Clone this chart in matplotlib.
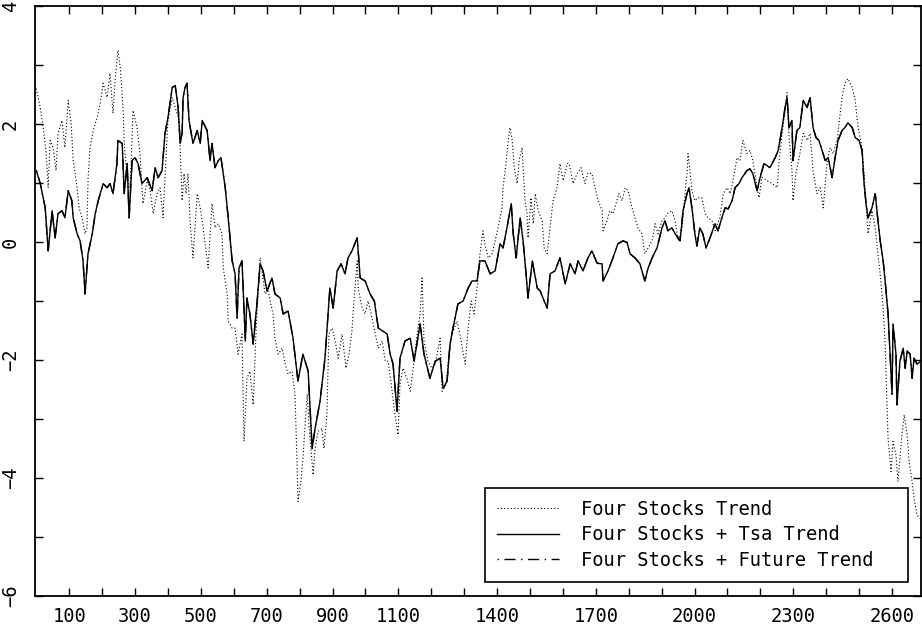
import matplotlib
matplotlib.use("Agg")
import matplotlib.pyplot as plt

# four stocks + tsa trend (solid)
tsa_x = [0, 12, 27, 36, 48, 57, 66, 78, 87, 97, 108, 112, 124, 133, 142, 148, 157, 170, 179, 188,
         203, 215, 224, 233, 245, 248, 261, 267, 276, 282, 291, 300, 309, 321, 337, 352, 361, 370, 382, 391,
         400, 413, 422, 431, 437, 443, 446, 452, 458, 464, 476, 489, 498, 504, 519, 528, 534, 543, 553, 561,
         574, 583, 595, 604, 610, 616, 625, 635, 640, 649, 659, 671, 680, 689, 701, 716, 725, 741, 750, 765,
         780, 795, 810, 826, 838, 847, 862, 877, 889, 892, 902, 914, 926, 938, 947, 959, 975, 984, 999, 1014,
         1027, 1039, 1053, 1066, 1075, 1084, 1096, 1105, 1120, 1136, 1148, 1166, 1178, 1196, 1212, 1227, 1236, 1248, 1257, 1266,
         1281, 1297, 1312, 1324, 1339, 1348, 1363, 1379, 1394, 1409, 1418, 1430, 1443, 1449, 1458, 1470, 1479, 1488, 1494, 1507,
         1522, 1531, 1543, 1552, 1561, 1576, 1591, 1607, 1622, 1637, 1646, 1661, 1676, 1688, 1704, 1719, 1722, 1737, 1752, 1767,
         1783, 1795, 1804, 1819, 1834, 1849, 1859, 1871, 1886, 1901, 1910, 1919, 1931, 1941, 1956, 1965, 1977, 1983, 1992, 2001,
         2007, 2016, 2025, 2035, 2047, 2062, 2071, 2083, 2093, 2102, 2114, 2123, 2135, 2144, 2159, 2168, 2177, 2190, 2199, 2211,
         2229, 2245, 2254, 2266, 2275, 2281, 2287, 2296, 2299, 2311, 2320, 2330, 2342, 2351, 2360, 2369, 2378, 2397, 2406, 2418,
         2427, 2436, 2448, 2457, 2466, 2479, 2488, 2500, 2509, 2515, 2521, 2527, 2539, 2549, 2555, 2564, 2573, 2579, 2588, 2594,
         2600, 2603, 2612, 2615, 2624, 2634, 2640, 2646, 2655, 2661, 2667, 2676, 2688]
tsa_y = [1.21, 0.99, 0.58, -0.15, 0.53, 0.07, 0.48, 0.53, 0.41, 0.87, 0.70, 0.41, 0.14, 0.02, -0.32, -0.88, -0.20, 0.14, 0.48, 0.70,
         0.99, 0.92, 0.99, 0.82, 1.33, 1.72, 1.67, 0.82, 1.33, 0.41, 1.38, 1.43, 1.33, 0.99, 1.09, 0.87, 1.26, 1.09, 1.21, 1.84,
         2.11, 2.62, 2.65, 2.28, 1.67, 1.84, 2.45, 2.62, 2.69, 2.06, 1.67, 1.89, 1.67, 2.06, 1.89, 1.38, 1.67, 1.26, 1.38, 1.43,
         0.92, 0.41, -0.32, -0.54, -1.29, -0.44, -0.32, -1.68, -0.95, -1.22, -1.73, -1.00, -0.37, -0.49, -0.83, -0.61, -0.88, -0.95, -1.22, -1.17,
         -1.63, -2.36, -1.90, -2.19, -3.50, -3.16, -2.70, -1.97, -1.00, -0.78, -1.12, -0.49, -0.37, -0.54, -0.27, -0.15, 0.07, -0.61, -0.66, -0.88,
         -1.00, -1.46, -1.51, -1.56, -1.90, -2.07, -2.87, -1.97, -1.68, -1.63, -2.02, -1.39, -1.90, -2.31, -2.02, -1.97, -2.48, -2.36, -1.73, -1.46,
         -1.05, -1.00, -0.78, -0.66, -0.66, -0.32, -0.32, -0.54, -0.49, -0.03, -0.10, 0.24, 0.65, 0.14, -0.27, 0.41, 0.02, -0.54, -0.95, -0.32,
         -0.78, -0.83, -1.00, -1.12, -0.54, -0.49, -0.27, -0.71, -0.37, -0.54, -0.32, -0.49, -0.27, -0.15, -0.36, -0.37, -0.66, -0.49, -0.27, -0.03,
         0.02, -0.01, -0.20, -0.27, -0.37, -0.66, -0.44, -0.27, -0.10, 0.24, 0.36, 0.19, 0.24, 0.14, 0.02, 0.53, 0.82, 0.92, 0.58, 0.14,
         -0.07, 0.24, 0.14, -0.10, 0.07, 0.31, 0.19, 0.41, 0.58, 0.56, 0.70, 0.92, 0.99, 1.09, 1.21, 1.24, 1.16, 0.87, 1.09, 1.33,
         1.26, 1.43, 1.55, 1.94, 2.28, 2.45, 1.94, 2.06, 1.38, 1.89, 1.94, 2.40, 2.28, 2.45, 1.94, 1.77, 1.72, 1.38, 1.43, 1.09,
         1.43, 1.72, 1.89, 1.94, 2.02, 1.94, 1.77, 1.72, 1.55, 0.99, 0.65, 0.41, 0.58, 0.82, 0.48, 0.02, -0.32, -0.66, -1.22, -1.90,
         -2.58, -1.39, -1.90, -2.76, -2.02, -1.80, -2.14, -1.85, -1.90, -2.31, -1.97, -2.07, -2.02]

# four stocks trend (dotted)
stock_x = [0, 12, 21, 30, 36, 42, 51, 60, 66, 78, 87, 97, 106, 112, 118, 124, 130, 139, 148, 154,
           157, 163, 173, 185, 194, 203, 215, 224, 233, 240, 248, 255, 264, 267, 276, 285, 294, 306, 315, 324,
           337, 346, 355, 367, 376, 385, 394, 400, 413, 422, 434, 443, 449, 455, 461, 467, 476, 489, 498, 507,
           522, 534, 543, 553, 564, 568, 580, 583, 595, 604, 613, 625, 631, 640, 649, 659, 668, 680, 695, 704,
           719, 725, 735, 747, 756, 765, 777, 786, 792, 795, 804, 810, 823, 829, 841, 847, 856, 868, 874, 883,
           889, 899, 908, 917, 929, 941, 950, 959, 965, 975, 978, 990, 999, 1008, 1020, 1030, 1039, 1051, 1060, 1069,
           1081, 1090, 1099, 1105, 1114, 1126, 1136, 1145, 1157, 1166, 1172, 1178, 1190, 1202, 1212, 1227, 1233, 1245, 1254, 1263,
           1278, 1287, 1303, 1312, 1321, 1330, 1339, 1348, 1357, 1363, 1373, 1385, 1394, 1403, 1415, 1418, 1427, 1433, 1439, 1446,
           1452, 1461, 1467, 1476, 1479, 1485, 1491, 1494, 1503, 1510, 1516, 1525, 1537, 1543, 1552, 1561, 1570, 1582, 1591, 1601,
           1613, 1619, 1631, 1643, 1655, 1667, 1676, 1688, 1698, 1707, 1719, 1722, 1734, 1743, 1752, 1764, 1770, 1780, 1789, 1798,
           1810, 1819, 1828, 1840, 1849, 1859, 1871, 1880, 1889, 1901, 1910, 1919, 1931, 1941, 1950, 1962, 1971, 1977, 1980, 1986,
           1992, 2001, 2010, 2022, 2032, 2041, 2053, 2062, 2077, 2087, 2099, 2108, 2117, 2129, 2138, 2147, 2159, 2168, 2177, 2190,
           2196, 2205, 2220, 2236, 2251, 2257, 2266, 2275, 2281, 2287, 2296, 2299, 2308, 2320, 2330, 2342, 2351, 2360, 2372, 2382,
           2391, 2403, 2412, 2421, 2433, 2448, 2457, 2466, 2479, 2488, 2497, 2509, 2518, 2527, 2539, 2549, 2555, 2564, 2573, 2579,
           2585, 2588, 2597, 2603, 2612, 2618, 2630, 2637, 2646, 2652, 2661, 2667, 2676, 2688]
stock_y = [2.60, 2.28, 1.94, 1.50, 0.92, 1.72, 1.60, 1.21, 1.84, 2.06, 1.60, 2.40, 2.00, 1.38, 1.16, 0.92, 0.58, 0.41, 0.14, 0.24,
           1.04, 1.60, 1.89, 2.11, 2.35, 2.69, 2.45, 2.86, 2.18, 2.79, 3.25, 2.96, 2.23, 1.67, 1.09, 0.92, 2.23, 1.94, 1.50, 0.65,
           1.04, 0.87, 0.48, 0.82, 0.92, 0.41, 1.43, 2.06, 2.45, 2.28, 2.06, 0.70, 1.16, 0.82, 1.16, 0.36, -0.27, 0.82, 0.58, 0.24,
           -0.44, 0.65, 0.24, 0.31, 0.14, -0.44, -0.88, -1.34, -1.46, -1.46, -1.90, -1.56, -3.38, -2.31, -2.19, -2.76, -1.46, -0.27, -0.88, -0.83,
           -1.22, -1.63, -1.90, -1.80, -2.07, -2.24, -2.19, -2.58, -3.72, -4.40, -4.06, -3.67, -2.58, -3.16, -3.95, -3.50, -3.21, -3.16, -3.50, -2.93,
           -1.56, -1.46, -1.68, -1.97, -1.56, -2.14, -1.90, -1.51, -1.00, -0.32, -0.78, -1.12, -1.22, -1.00, -1.29, -1.56, -1.80, -1.68, -2.02, -2.02,
           -2.53, -2.93, -3.27, -2.41, -2.14, -2.31, -2.53, -2.14, -1.56, -1.22, -0.61, -1.68, -2.02, -2.14, -2.07, -1.63, -2.53, -2.41, -1.90, -1.56,
           -1.34, -1.56, -2.07, -1.46, -1.00, -1.22, -0.78, -0.20, 0.19, -0.03, -0.27, -0.20, 0.02, 0.24, 0.58, 0.92, 1.33, 1.67, 1.94, 1.72,
           1.26, 0.99, 1.38, 1.60, 1.26, 0.70, 0.48, 0.07, 0.75, 0.31, 0.82, 0.53, 0.36, -0.10, -0.20, 0.24, 0.70, 0.92, 1.33, 1.04,
           1.33, 1.33, 0.99, 1.16, 1.26, 0.99, 1.17, 1.16, 0.92, 0.70, 0.53, 0.19, 0.36, 0.53, 0.48, 0.70, 0.82, 0.70, 0.92, 0.87,
           0.58, 0.41, 0.24, 0.14, -0.20, -0.10, 0.02, 0.31, 0.14, 0.36, 0.41, 0.49, 0.53, 0.36, 0.02, 0.24, 0.82, 1.16, 1.50, 1.21,
           0.87, 0.70, 0.75, 0.75, 0.48, 0.41, 0.36, 0.19, 0.41, 0.82, 0.92, 0.82, 1.04, 1.43, 1.38, 1.72, 1.50, 1.55, 1.38, 0.92,
           0.75, 1.10, 1.04, 0.99, 0.92, 1.38, 1.84, 2.23, 2.53, 1.77, 1.21, 0.70, 1.16, 1.50, 1.84, 1.72, 1.84, 1.21, 0.82, 0.92,
           0.58, 1.38, 1.60, 1.50, 1.72, 2.45, 2.69, 2.77, 2.62, 2.40, 1.94, 1.60, 0.92, 0.14, 0.53, 0.24, -0.10, -0.54, -1.12, -1.73,
           -2.82, -3.33, -3.89, -3.38, -3.61, -4.06, -3.27, -2.93, -3.27, -3.72, -4.06, -4.35, -4.63, -4.70]

# four stocks + future trend follows the tsa curve
future_x = tsa_x
future_y = tsa_y

legend_labels = ["Four Stocks Trend", "Four Stocks + Tsa Trend", "Four Stocks + Future Trend"]
xtick_vals = [100, 300, 500, 700, 900, 1100, 1400, 1700, 2000, 2300, 2600]
ytick_vals = [-6, -4, -2, 0, 2, 4]

plt.rcParams['font.family'] = ['DejaVu Sans Mono']

fig = plt.figure(figsize=(9.22, 6.30), dpi=100)
ax = fig.add_axes([35 / 922, 34 / 630, 886 / 922, 590 / 630])

l1, = ax.plot(stock_x, stock_y, color='black', lw=0.8, linestyle=(0, (1, 2)))
l2, = ax.plot(tsa_x, tsa_y, color='black', lw=1.0, linestyle='-')
l3, = ax.plot(future_x, future_y, color='black', lw=1.0, linestyle=(0, (1, 4, 8, 4)))

ax.set_xlim(-4, 2688)
ax.set_ylim(-6, 4)

ax.set_xticks(xtick_vals)
ax.set_xticklabels([str(v) for v in xtick_vals])
ax.set_xticks(range(100, 2700, 100), minor=True)
ax.set_yticks(ytick_vals)
ax.set_yticklabels([str(v).replace('-', '\u2212') for v in ytick_vals], rotation=90, va='center')
ax.set_yticks(range(-5, 4, 2), minor=True)

ax.tick_params(which='both', direction='in', top=True, right=True, width=1, length=6, labelsize=13.5)
ax.tick_params(axis='x', pad=8)
ax.tick_params(axis='y', pad=11)

for sp in ax.spines.values():
    sp.set_linewidth(1.3)

leg = ax.legend([l1, l2, l3], legend_labels, loc='lower left',
                bbox_to_anchor=((485 - 35) / 886, (596 - 582) / 590, (908 - 485) / 886, 0.1),
                mode='expand', borderaxespad=0, fancybox=False, framealpha=1,
                edgecolor='black', fontsize=13.5, handlelength=3.3, handletextpad=1.15,
                borderpad=0.65, labelspacing=0.35)
leg.get_frame().set_linewidth(1.2)

fig.savefig('out.png', dpi=100)
